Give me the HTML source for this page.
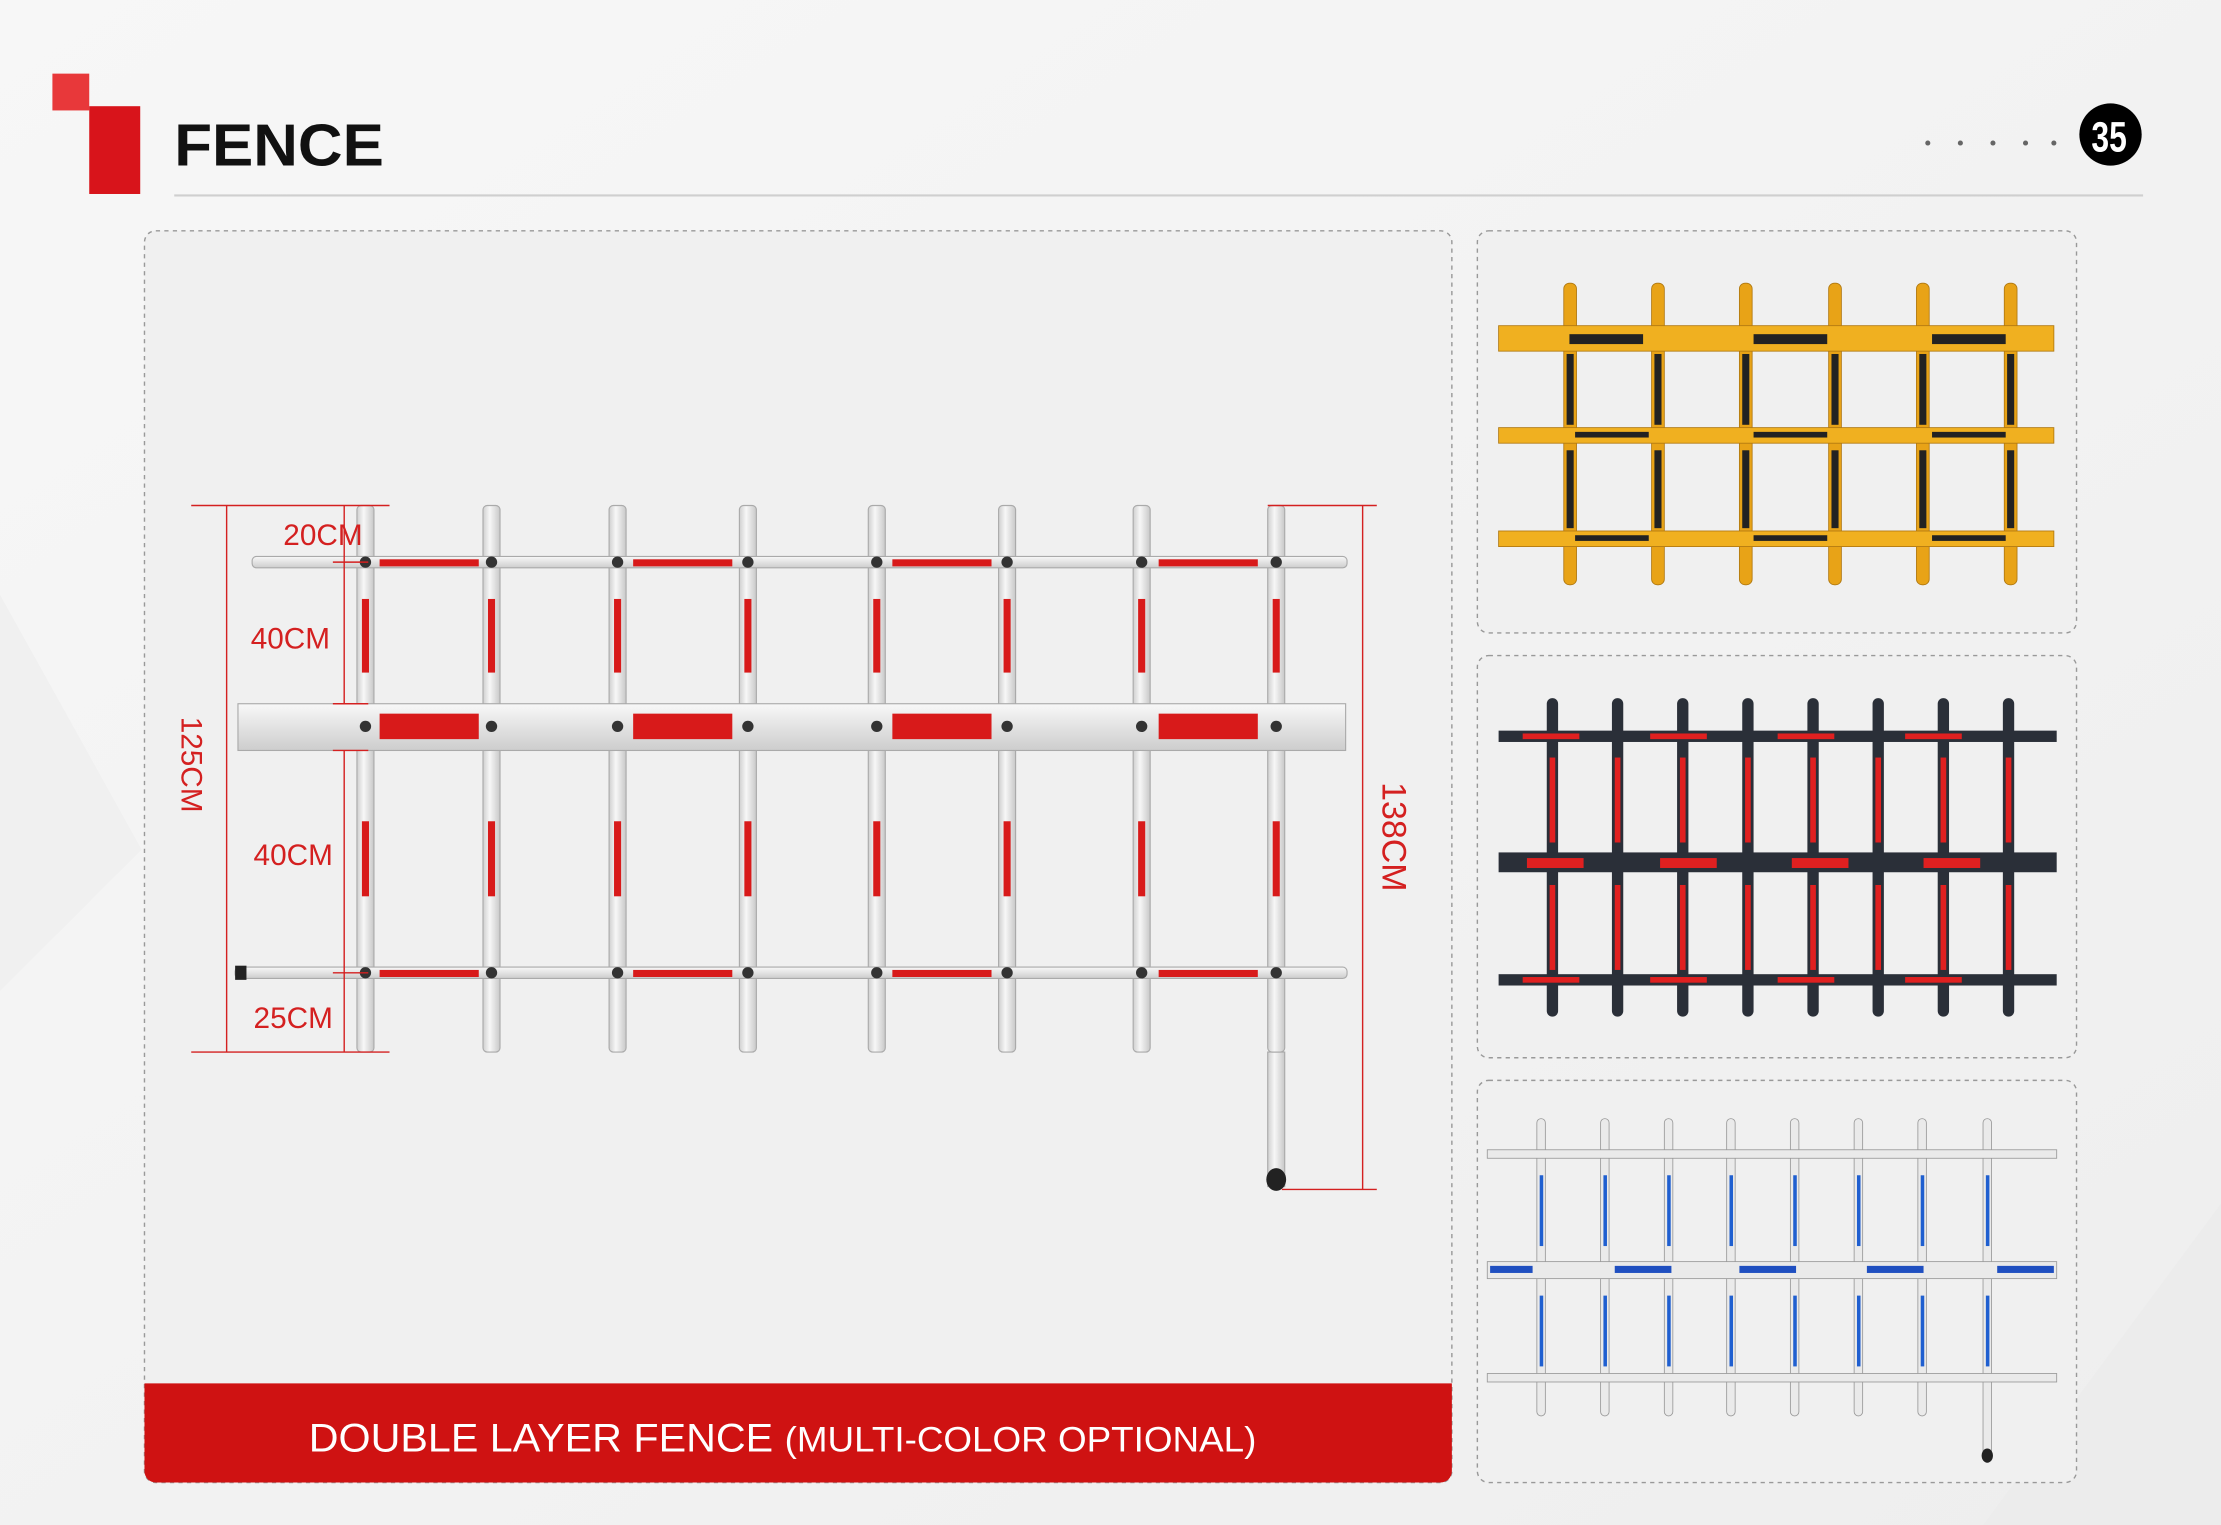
<!DOCTYPE html>
<html><head><meta charset="utf-8"><style>
html,body{margin:0;padding:0;width:2221px;height:1525px;overflow:hidden;background:#f3f3f3}
svg{display:block}
</style></head><body>
<svg width="2221" height="1525" viewBox="0 0 1568 1077" preserveAspectRatio="none" xmlns="http://www.w3.org/2000/svg" font-family="Liberation Sans, sans-serif">
<defs>
<linearGradient id="bg" x1="0" y1="0" x2="1" y2="1"><stop offset="0" stop-color="#f7f7f7"/><stop offset="1" stop-color="#eeeeee"/></linearGradient>
<linearGradient id="post" x1="0" x2="1"><stop offset="0" stop-color="#cfcfcf"/><stop offset="0.4" stop-color="#f7f7f7"/><stop offset="1" stop-color="#c8c8c8"/></linearGradient>
<linearGradient id="rail" x1="0" y1="0" x2="0" y2="1"><stop offset="0" stop-color="#f8f8f8"/><stop offset="1" stop-color="#cdcdcd"/></linearGradient>
</defs>
<rect width="1568" height="1077" fill="url(#bg)"/>
<polygon points="1400,1077 1568,850 1568,1077" fill="#ececec"/>
<polygon points="0,420 100,600 0,700" fill="#f0f0f0"/>
<!-- header -->
<rect x="37" y="52" width="26" height="26" fill="#e8383a"/>
<rect x="63" y="75" width="36" height="62" fill="#d8141b"/>
<text x="123" y="117" font-size="42" font-weight="bold" fill="#111" textLength="148" lengthAdjust="spacingAndGlyphs">FENCE</text>
<line x1="123" y1="138" x2="1513" y2="138" stroke="#cfcfcf" stroke-width="1.5"/>
<g fill="#666"><circle cx="1361" cy="101" r="1.8"/><circle cx="1384" cy="101" r="1.8"/><circle cx="1407" cy="101" r="1.8"/><circle cx="1430" cy="101" r="1.8"/><circle cx="1450" cy="101" r="1.8"/></g>
<circle cx="1490" cy="95" r="22" fill="#000"/>
<text x="1489" y="107" font-size="30" font-weight="bold" fill="#fff" text-anchor="middle" transform="translate(1489 0) scale(0.75 1) translate(-1489 0)">35</text>
<!-- main panel -->
<rect x="102" y="163" width="923" height="884" rx="8" fill="#f0f0f0" stroke="#999" stroke-dasharray="3 3"/>
<path d="M102 977 H1025 V1039 a8 8 0 0 1 -8 8 H110 a8 8 0 0 1 -8 -8 Z" fill="#cf1212"/>
<text x="218" y="1025" font-size="28" fill="#fff" textLength="669" lengthAdjust="spacingAndGlyphs">DOUBLE LAYER FENCE <tspan font-size="25">(MULTI-COLOR OPTIONAL)</tspan></text>
<!-- main fence -->
<g>
<rect x="895" y="743" width="12" height="95" fill="url(#post)" stroke="#aaa" stroke-width="0.8"/>
<ellipse cx="901" cy="833" rx="7" ry="8" fill="#222"/>
<g stroke="#aaa" stroke-width="0.8" fill="url(#post)">
<rect x="252" y="357" width="12" height="386" rx="3"/><rect x="341" y="357" width="12" height="386" rx="3"/>
<rect x="430" y="357" width="12" height="386" rx="3"/><rect x="522" y="357" width="12" height="386" rx="3"/>
<rect x="613" y="357" width="12" height="386" rx="3"/><rect x="705" y="357" width="12" height="386" rx="3"/>
<rect x="800" y="357" width="12" height="386" rx="3"/><rect x="895" y="357" width="12" height="386" rx="3"/>
</g>
<g fill="#d81a1a">
<rect x="255.5" y="423" width="5" height="52"/><rect x="344.5" y="423" width="5" height="52"/><rect x="433.5" y="423" width="5" height="52"/><rect x="525.5" y="423" width="5" height="52"/><rect x="616.5" y="423" width="5" height="52"/><rect x="708.5" y="423" width="5" height="52"/><rect x="803.5" y="423" width="5" height="52"/><rect x="898.5" y="423" width="5" height="52"/>
<rect x="255.5" y="580" width="5" height="53"/><rect x="344.5" y="580" width="5" height="53"/><rect x="433.5" y="580" width="5" height="53"/><rect x="525.5" y="580" width="5" height="53"/><rect x="616.5" y="580" width="5" height="53"/><rect x="708.5" y="580" width="5" height="53"/><rect x="803.5" y="580" width="5" height="53"/><rect x="898.5" y="580" width="5" height="53"/>
</g>
<g stroke="#aaa" stroke-width="0.8" fill="url(#rail)">
<rect x="178" y="393" width="773" height="8" rx="3"/>
<rect x="168" y="497" width="782" height="33"/>
<rect x="166" y="683" width="785" height="8" rx="3"/>
</g>
<rect x="166" y="682" width="8" height="10" fill="#222"/>
<g fill="#d81a1a">
<rect x="268" y="395" width="70" height="5"/><rect x="447" y="395" width="70" height="5"/><rect x="630" y="395" width="70" height="5"/><rect x="818" y="395" width="70" height="5"/>
<rect x="268" y="504" width="70" height="18"/><rect x="447" y="504" width="70" height="18"/><rect x="630" y="504" width="70" height="18"/><rect x="818" y="504" width="70" height="18"/>
<rect x="268" y="685" width="70" height="5"/><rect x="447" y="685" width="70" height="5"/><rect x="630" y="685" width="70" height="5"/><rect x="818" y="685" width="70" height="5"/>
</g>
<g fill="#333">
<circle cx="258" cy="397" r="4"/><circle cx="347" cy="397" r="4"/><circle cx="436" cy="397" r="4"/><circle cx="528" cy="397" r="4"/><circle cx="619" cy="397" r="4"/><circle cx="711" cy="397" r="4"/><circle cx="806" cy="397" r="4"/><circle cx="901" cy="397" r="4"/>
<circle cx="258" cy="513" r="4"/><circle cx="347" cy="513" r="4"/><circle cx="436" cy="513" r="4"/><circle cx="528" cy="513" r="4"/><circle cx="619" cy="513" r="4"/><circle cx="711" cy="513" r="4"/><circle cx="806" cy="513" r="4"/><circle cx="901" cy="513" r="4"/>
<circle cx="258" cy="687" r="4"/><circle cx="347" cy="687" r="4"/><circle cx="436" cy="687" r="4"/><circle cx="528" cy="687" r="4"/><circle cx="619" cy="687" r="4"/><circle cx="711" cy="687" r="4"/><circle cx="806" cy="687" r="4"/><circle cx="901" cy="687" r="4"/>
</g>
<!-- dimensions -->
<g stroke="#d42020" stroke-width="1">
<line x1="160" y1="357" x2="160" y2="743"/><line x1="135" y1="357" x2="275" y2="357"/><line x1="135" y1="743" x2="275" y2="743"/>
<line x1="243" y1="357" x2="243" y2="397"/><line x1="243" y1="397" x2="243" y2="497"/><line x1="243" y1="530" x2="243" y2="687"/><line x1="243" y1="687" x2="243" y2="743"/>
<line x1="235" y1="397" x2="260" y2="397"/><line x1="235" y1="497" x2="260" y2="497"/><line x1="235" y1="530" x2="260" y2="530"/><line x1="235" y1="687" x2="260" y2="687"/>
<line x1="962" y1="357" x2="962" y2="840"/><line x1="895" y1="357" x2="972" y2="357"/><line x1="905" y1="840" x2="972" y2="840"/>
</g>
<g fill="#d42020" font-size="21">
<text x="200" y="385">20CM</text>
<text x="177" y="458">40CM</text>
<text x="179" y="611">40CM</text>
<text x="179" y="726">25CM</text>
<text transform="translate(128 540) rotate(90)" text-anchor="middle">125CM</text>
<text transform="translate(976 591) rotate(90)" text-anchor="middle" font-size="24">138CM</text>
</g>
</g>
<!-- right panels -->
<g fill="#f0f0f0" stroke="#999" stroke-dasharray="3 3">
<rect x="1043" y="163" width="423" height="284" rx="8"/>
<rect x="1043" y="463" width="423" height="284" rx="8"/>
<rect x="1043" y="763" width="423" height="284" rx="8"/>
</g>
<!-- yellow fence -->
<g>
<g fill="#e8a317" stroke="#b07810" stroke-width="0.6">
<rect x="1104" y="200" width="9" height="213" rx="4"/><rect x="1166" y="200" width="9" height="213" rx="4"/><rect x="1228" y="200" width="9" height="213" rx="4"/><rect x="1291" y="200" width="9" height="213" rx="4"/><rect x="1353" y="200" width="9" height="213" rx="4"/><rect x="1415" y="200" width="9" height="213" rx="4"/>
</g>
<g fill="#222"><rect x="1106" y="250" width="5" height="50"/><rect x="1168" y="250" width="5" height="50"/><rect x="1230" y="250" width="5" height="50"/><rect x="1293" y="250" width="5" height="50"/><rect x="1355" y="250" width="5" height="50"/><rect x="1417" y="250" width="5" height="50"/>
<rect x="1106" y="318" width="5" height="55"/><rect x="1168" y="318" width="5" height="55"/><rect x="1230" y="318" width="5" height="55"/><rect x="1293" y="318" width="5" height="55"/><rect x="1355" y="318" width="5" height="55"/><rect x="1417" y="318" width="5" height="55"/></g>
<g fill="#f0b020" stroke="#b07810" stroke-width="0.6">
<rect x="1058" y="230" width="392" height="18"/><rect x="1058" y="302" width="392" height="11"/><rect x="1058" y="375" width="392" height="11"/>
</g>
<g fill="#222"><rect x="1108" y="236" width="52" height="7"/><rect x="1238" y="236" width="52" height="7"/><rect x="1364" y="236" width="52" height="7"/>
<rect x="1112" y="305" width="52" height="4"/><rect x="1238" y="305" width="52" height="4"/><rect x="1364" y="305" width="52" height="4"/>
<rect x="1112" y="378" width="52" height="4"/><rect x="1238" y="378" width="52" height="4"/><rect x="1364" y="378" width="52" height="4"/></g>
</g>
<!-- dark fence -->
<g>
<g fill="#2a2f38"><rect x="1092" y="493" width="8" height="225" rx="4"/><rect x="1138" y="493" width="8" height="225" rx="4"/><rect x="1184" y="493" width="8" height="225" rx="4"/><rect x="1230" y="493" width="8" height="225" rx="4"/><rect x="1276" y="493" width="8" height="225" rx="4"/><rect x="1322" y="493" width="8" height="225" rx="4"/><rect x="1368" y="493" width="8" height="225" rx="4"/><rect x="1414" y="493" width="8" height="225" rx="4"/></g>
<g fill="#e02020"><rect x="1094" y="535" width="4" height="60"/><rect x="1140" y="535" width="4" height="60"/><rect x="1186" y="535" width="4" height="60"/><rect x="1232" y="535" width="4" height="60"/><rect x="1278" y="535" width="4" height="60"/><rect x="1324" y="535" width="4" height="60"/><rect x="1370" y="535" width="4" height="60"/><rect x="1416" y="535" width="4" height="60"/>
<rect x="1094" y="625" width="4" height="60"/><rect x="1140" y="625" width="4" height="60"/><rect x="1186" y="625" width="4" height="60"/><rect x="1232" y="625" width="4" height="60"/><rect x="1278" y="625" width="4" height="60"/><rect x="1324" y="625" width="4" height="60"/><rect x="1370" y="625" width="4" height="60"/><rect x="1416" y="625" width="4" height="60"/></g>
<g fill="#2a2f38"><rect x="1058" y="516" width="394" height="8"/><rect x="1058" y="602" width="394" height="14"/><rect x="1058" y="688" width="394" height="8"/></g>
<g fill="#e02020"><rect x="1075" y="518" width="40" height="4"/><rect x="1165" y="518" width="40" height="4"/><rect x="1255" y="518" width="40" height="4"/><rect x="1345" y="518" width="40" height="4"/>
<rect x="1078" y="606" width="40" height="7"/><rect x="1172" y="606" width="40" height="7"/><rect x="1265" y="606" width="40" height="7"/><rect x="1358" y="606" width="40" height="7"/>
<rect x="1075" y="690" width="40" height="4"/><rect x="1165" y="690" width="40" height="4"/><rect x="1255" y="690" width="40" height="4"/><rect x="1345" y="690" width="40" height="4"/></g>
</g>
<!-- blue fence -->
<g>
<g fill="#eaeaea" stroke="#999" stroke-width="0.6"><rect x="1085" y="790" width="6" height="210" rx="3"/><rect x="1130" y="790" width="6" height="210" rx="3"/><rect x="1175" y="790" width="6" height="210" rx="3"/><rect x="1219" y="790" width="6" height="210" rx="3"/><rect x="1264" y="790" width="6" height="210" rx="3"/><rect x="1309" y="790" width="6" height="210" rx="3"/><rect x="1354" y="790" width="6" height="210" rx="3"/><rect x="1400" y="790" width="6" height="240" rx="3"/></g>
<g fill="#1f5fd0"><rect x="1087" y="830" width="2.5" height="50"/><rect x="1132" y="830" width="2.5" height="50"/><rect x="1177" y="830" width="2.5" height="50"/><rect x="1221" y="830" width="2.5" height="50"/><rect x="1266" y="830" width="2.5" height="50"/><rect x="1311" y="830" width="2.5" height="50"/><rect x="1356" y="830" width="2.5" height="50"/><rect x="1402" y="830" width="2.5" height="50"/>
<rect x="1087" y="915" width="2.5" height="50"/><rect x="1132" y="915" width="2.5" height="50"/><rect x="1177" y="915" width="2.5" height="50"/><rect x="1221" y="915" width="2.5" height="50"/><rect x="1266" y="915" width="2.5" height="50"/><rect x="1311" y="915" width="2.5" height="50"/><rect x="1356" y="915" width="2.5" height="50"/><rect x="1402" y="915" width="2.5" height="50"/></g>
<g fill="#eaeaea" stroke="#999" stroke-width="0.6"><rect x="1050" y="812" width="402" height="6"/><rect x="1050" y="891" width="402" height="12"/><rect x="1050" y="970" width="402" height="6"/></g>
<g fill="#1f4fc0"><rect x="1052" y="894" width="30" height="5"/><rect x="1140" y="894" width="40" height="5"/><rect x="1228" y="894" width="40" height="5"/><rect x="1318" y="894" width="40" height="5"/><rect x="1410" y="894" width="40" height="5"/></g>
<ellipse cx="1403" cy="1028" rx="4" ry="5" fill="#222"/>
</g>
</svg>
</body></html>
